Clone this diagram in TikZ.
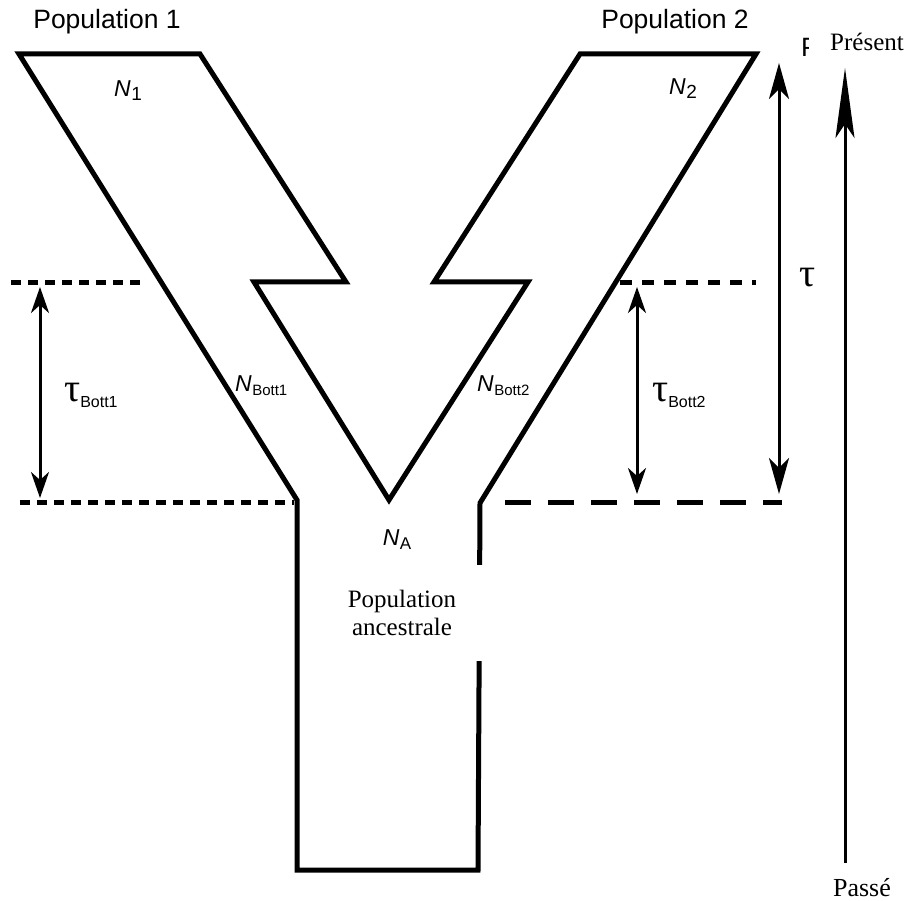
\documentclass[tikz,border=0pt]{standalone}
\usepackage{fontspec}
\setmainfont{Liberation Serif}
\setsansfont{Liberation Sans}
\usetikzlibrary{arrows.meta}
% population size label: italic N with an upright subscript
\newcommand{\popsize}[2][15]{{\sffamily\fontsize{23}{23}\selectfont\itshape N}\kern0.5pt\raisebox{-4pt}{\sffamily\fontsize{#1}{#1}\selectfont #2}}
% duration label: tau with an upright subscript
\newcommand{\durlabel}[1]{{\fontsize{40}{40}\selectfont τ}\raisebox{-6pt}{\sffamily\fontsize{16}{16}\selectfont #1}}

\begin{document}
\begin{tikzpicture}[x=1pt,y=-1pt,
  outline/.style={line width=5pt, line join=miter},
  sepshort/.style={line width=5pt, dash pattern=on 10pt off 7pt},
  sepmid/.style={line width=5pt, dash pattern=on 12pt off 10pt},
  seplong/.style={line width=5pt, dash pattern=on 26pt off 17pt},
  span/.style={line width=3pt, {Stealth[length=26pt,width=18pt,inset=8pt]}-{Stealth[length=26pt,width=18pt,inset=8pt]}},
  bigspan/.style={line width=3pt, {Stealth[length=36pt,width=20pt,inset=10pt]}-{Stealth[length=36pt,width=20pt,inset=10pt]}},
  timeaxis/.style={line width=3pt, -{Stealth[length=70pt,width=19pt,inset=14pt]}},
  poplabel/.style={font=\sffamily\fontsize{26.5}{26.5}\selectfont, inner sep=0pt},
  serif/.style={font=\rmfamily\fontsize{25}{28}\selectfont, inner sep=0pt, align=center},
  plain/.style={inner sep=0pt}
]
\useasboundingbox (0,0) rectangle (910,901);

% corners of the Y-shaped population outline
\coordinate (a1) at (19,54);
\coordinate (a2) at (200,54);
\coordinate (a3) at (346,282);
\coordinate (a4) at (254,282);
\coordinate (v)  at (389,500);
\coordinate (b4) at (528,282);
\coordinate (b3) at (434,282);
\coordinate (b2) at (580,54);
\coordinate (b1) at (756,54);
\coordinate (sr) at (480,503);
\coordinate (br) at (478,870);
\coordinate (bl) at (297,870);
\coordinate (sl) at (297,500);

\draw[outline] (a1) -- (a2) -- (a3) -- (a4) -- (v) -- (b4) -- (b3) -- (b2)
  -- (b1) -- (sr) -- (br) -- (bl) -- (sl) -- cycle;

% bottleneck limits
\coordinate (ul0) at (11,283);  \coordinate (ul1) at (146,283);
\coordinate (ll0) at (20,502);  \coordinate (ll1) at (294,502);
\coordinate (ur0) at (620,283); \coordinate (ur1) at (756,283);
\coordinate (lr0) at (505,502); \coordinate (lr1) at (782,502);
\draw[sepshort] (ul0) -- (ul1);
\draw[sepshort] (ll0) -- (ll1);
\draw[sepmid] (ur0) -- (ur1);
\draw[seplong] (lr0) -- (lr1);

% durations
\coordinate (t1a) at (40,287);  \coordinate (t1b) at (40,498);
\coordinate (t2a) at (637,287); \coordinate (t2b) at (637,494);
\coordinate (ta)  at (779,63);  \coordinate (tb)  at (779,494);
\draw[span] (t1a) -- (t1b);
\draw[span] (t2a) -- (t2b);
\draw[bigspan] (ta) -- (tb);

% time axis
\coordinate (past) at (845,863);
\coordinate (now)  at (845,68);
\draw[timeaxis] (past) -- (now);

% labels
\node[poplabel] (pop1) at (107,22) {Population 1};
\node[poplabel] (pop2) at (675,22) {Population 2};
\node[plain] (n1) at (128,91) {\popsize[19]{1}};
\node[plain] (n2) at (683,89) {\popsize[19]{2}};
\node[plain, anchor=west] (nb1) at (235,386) {\popsize{Bott1}};
\node[plain, anchor=west] (nb2) at (477,386) {\popsize{Bott2}};
\node[plain, anchor=west] (tau1) at (64,395) {\durlabel{Bott1}};
\node[plain, anchor=west] (tau2) at (652,395) {\durlabel{Bott2}};
\node[plain] (tau) at (808,278) {\fontsize{40}{40}\selectfont τ};
\node[plain] (na) at (397,540) {\popsize[17]{A}};
\node[serif, fill=white, minimum width=164pt, minimum height=96pt] (anc) at (402,613) {Population\\ancestrale};
\node[poplabel, anchor=west] (pfrag) at (801,47) {P};
\node[serif, fill=white, inner xsep=21pt, inner ysep=4pt] (present) at (867,42) {Présent};
\node[serif, font=\rmfamily\fontsize{26}{28}\selectfont] (passe) at (862,888) {Passé};
\end{tikzpicture}
\end{document}
